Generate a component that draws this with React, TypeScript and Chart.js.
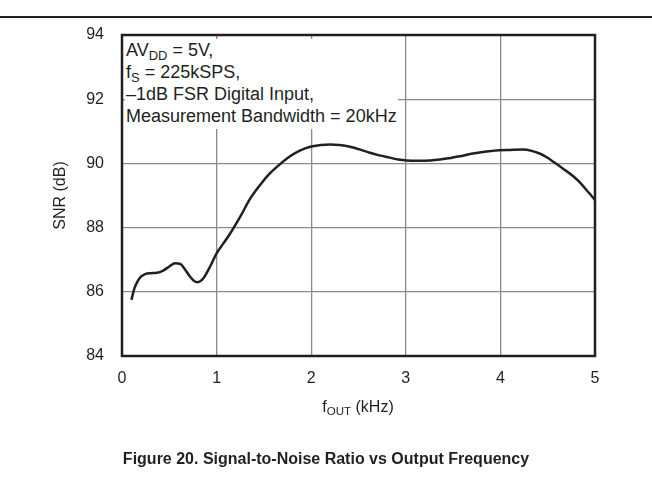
import React, { useEffect, useRef } from "react";
import { Chart, registerables } from "chart.js";

Chart.register(...registerables);

const freqKHz = [
  0.1, 0.13, 0.16, 0.2, 0.25, 0.3, 0.37, 0.44, 0.5, 0.56, 0.62, 0.67, 0.72, 0.77, 0.8, 0.86, 0.93,
  1.0, 1.07, 1.14, 1.25, 1.35, 1.46, 1.55, 1.64, 1.78, 1.88, 1.99, 2.1, 2.2, 2.3, 2.41, 2.52, 2.62,
  2.72, 2.83, 2.92, 3.01, 3.13, 3.26, 3.36, 3.47, 3.57, 3.68, 3.78, 3.88, 3.99, 4.1, 4.24, 4.33,
  4.42, 4.49, 4.56, 4.67, 4.77, 4.85, 4.91, 4.96, 5.0,
];
const snrDb = [
  85.75, 86.1, 86.3, 86.47, 86.56, 86.58, 86.59, 86.67, 86.79, 86.89, 86.86, 86.68, 86.47, 86.32,
  86.3, 86.42, 86.78, 87.2, 87.5, 87.8, 88.34, 88.88, 89.33, 89.65, 89.9, 90.23, 90.4, 90.52,
  90.57, 90.59, 90.57, 90.52, 90.43, 90.33, 90.25, 90.18, 90.12, 90.09, 90.08, 90.09, 90.12,
  90.17, 90.22, 90.29, 90.34, 90.38, 90.41, 90.42, 90.43, 90.39, 90.3, 90.19, 90.05, 89.82, 89.6,
  89.38, 89.17, 89.0, 88.86,
];
const xTicks = [0, 1, 2, 3, 4, 5];
const yTicks = [84, 86, 88, 90, 92, 94];
const annotationLines = ["AV|DD| = 5V,", "f|S| = 225kSPS,", "–1dB FSR Digital Input,", "Measurement Bandwidth = 20kHz"];
const yTitle = "SNR (dB)";
const xTitleMain = "f";
const xTitleSub = "OUT";
const xTitleRest = " (kHz)";
const caption = "Figure 20. Signal-to-Noise Ratio vs Output Frequency";

const FONT = "'Liberation Sans', Arial, Helvetica, sans-serif";
const INK = "#231f20";

function renderSub(s: string) {
  const parts = s.split("|");
  return parts.map((p, i) =>
    i % 2 === 1 ? (
      <sub key={i} style={{ fontSize: "0.72em", verticalAlign: "-0.3em", lineHeight: 0 }}>
        {p}
      </sub>
    ) : (
      <span key={i}>{p}</span>
    )
  );
}

export default function App() {
  const canvasRef = useRef<HTMLCanvasElement | null>(null);

  useEffect(() => {
    const canvas = canvasRef.current;
    if (!canvas) return;
    const framePlugin = {
      id: "frame",
      afterDraw(chart: any) {
        const { ctx, chartArea } = chart;
        ctx.save();
        ctx.strokeStyle = INK;
        ctx.lineWidth = 2.5;
        ctx.strokeRect(chartArea.left, chartArea.top, chartArea.right - chartArea.left, chartArea.bottom - chartArea.top);
        ctx.restore();
      },
    };
    const chart = new Chart(canvas, {
      type: "line",
      data: {
        datasets: [
          {
            data: freqKHz.map((x, i) => ({ x, y: snrDb[i] })),
            borderColor: INK,
            borderWidth: 2.5,
            pointRadius: 0,
            tension: 0.4,
            cubicInterpolationMode: "monotone",
            fill: false,
          },
        ],
      },
      options: {
        responsive: false,
        animation: false,
        layout: { padding: { left: 0, right: 57, top: 35, bottom: 0 } },
        plugins: { legend: { display: false }, tooltip: { enabled: false } },
        scales: {
          x: {
            type: "linear",
            min: 0,
            max: 5,
            afterBuildTicks(scale: any) {
              scale.ticks = xTicks.map((v) => ({ value: v }));
            },
            afterFit(scale: any) {
              scale.height = 139;
            },
            grid: { color: "#8a8a8a", lineWidth: 1.3, drawTicks: false },
            border: { display: false },
            ticks: { padding: 13, color: INK, font: { family: FONT, size: 16 } },
          },
          y: {
            type: "linear",
            min: 84,
            max: 94,
            afterBuildTicks(scale: any) {
              scale.ticks = yTicks.map((v) => ({ value: v }));
            },
            afterFit(scale: any) {
              scale.width = 122;
            },
            grid: { color: "#8a8a8a", lineWidth: 1.3, drawTicks: false },
            border: { display: false },
            ticks: { padding: 18, color: INK, font: { family: FONT, size: 16 } },
            title: {
              display: true,
              text: yTitle,
              color: INK,
              font: { family: FONT, size: 16 },
              padding: { top: 51, bottom: 0 },
            },
          },
        },
      },
      plugins: [framePlugin],
    } as any);
    return () => chart.destroy();
  }, []);

  return (
    <div style={{ position: "absolute", left: 0, top: 0, width: 652, height: 495, background: "#fff", fontFamily: FONT, color: INK }}>
      <div style={{ position: "absolute", left: 0, top: 16, width: 652, height: 2, background: INK }} />
      <canvas ref={canvasRef} width={652} height={495} style={{ position: "absolute", left: 0, top: 0, display: "block" }} />
      <div
        style={{
          position: "absolute",
          left: 125,
          top: 39,
          width: 273,
          height: 90,
          paddingLeft: 1,
          boxSizing: "border-box",
          background: "#fff",
          fontSize: 18,
          lineHeight: "22px",
          whiteSpace: "nowrap",
        }}
      >
        {annotationLines.map((l, i) => (
          <div key={i} style={{ height: 22 }}>
            {renderSub(l)}
          </div>
        ))}
      </div>
      <div style={{ position: "absolute", left: 258, width: 200, top: 396, textAlign: "center", fontSize: 16, lineHeight: "22px", whiteSpace: "nowrap" }}>
        {xTitleMain}
        <sub style={{ fontSize: "0.72em", verticalAlign: "-0.3em", lineHeight: 0 }}>{xTitleSub}</sub>
        {xTitleRest}
      </div>
      <div style={{ position: "absolute", left: 0, width: 652, top: 448, textAlign: "center", fontSize: 16, fontWeight: "bold", lineHeight: "22px", whiteSpace: "nowrap" }}>
        {caption}
      </div>
    </div>
  );
}
